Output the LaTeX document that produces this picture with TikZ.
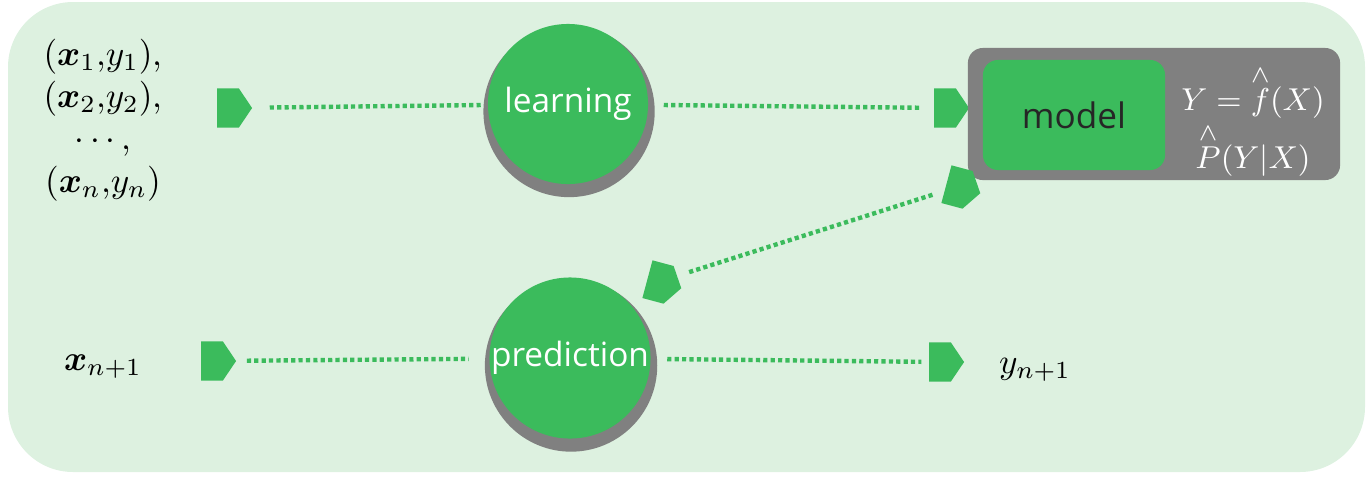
\documentclass[tikz,border=0pt]{standalone}
\usepackage{amsmath,amssymb}
\usepackage{fontspec}
\newfontfamily\stagefont{Open Sans}
\usetikzlibrary{positioning,calc,shadows}
\usetikzlibrary{shapes.symbols, arrows.meta}

\definecolor{leafgreen}{RGB}{59,187,92}
\definecolor{mintbg}{RGB}{221,241,224}
\definecolor{boxgray}{RGB}{128,128,128}

\tikzset{
	stage/.style={circle, fill=leafgreen, minimum size=1.6cm, inner sep=0pt, text=white, font=\stagefont\fontsize{9.5}{11}\selectfont,
		drop shadow={shadow xshift=0.01cm, shadow yshift=-0.07cm, shadow scale=1.07, fill=boxgray, opacity=1}},
	tag/.style={signal, signal to=east, signal pointer angle=112, fill=leafgreen, minimum width=0.35cm, minimum height=0.39cm, inner sep=0pt},
	link/.style={leafgreen, line width=1.25pt, dash pattern=on 1.2pt off 0.9pt},
	data/.style={font=\fontsize{10}{12}\selectfont, align=center},
}

\begin{document}
\begin{tikzpicture}[x=0.01cm, y=-0.01cm]
			\useasboundingbox (0,0) rectangle (1372,478);
			\fill[mintbg, rounded corners=0.65cm] (8,2) rectangle (1365,472);
			% learning row
			\node[data] (train) at (103,120) {$(\boldsymbol{x}_1{,}y_1)$,\\ $(\boldsymbol{x}_2{,}y_2)$,\\ $\cdots$,\\ $(\boldsymbol{x}_n{,}y_n)$};
			\node[tag] (t1) at (228,108) {};
			\node[stage] (learn) at (568,104) {learning};
			\node[tag] (t2) at (945,108) {};
			\node[name=outer, fill=boxgray, rounded corners=0.15cm, minimum width=3.72cm, minimum height=1.32cm] at (1154,114) {};
			\node[name=model, fill=leafgreen, rounded corners=0.15cm, minimum width=1.82cm, minimum height=1.1cm, text=black!85, font=\stagefont\fontsize{10}{12}\selectfont] at (1074,115) {model};
			\node[text=white, font=\fontsize{9.5}{11}\selectfont] (fhat) at (1253,92) {$Y=\overset{\wedge}{f}(X)$};
			\node[text=white, font=\fontsize{9.5}{11}\selectfont] (phat) at (1253,150) {$\overset{\wedge}{P}(Y|X)$};
			\draw[link, shorten <=0.17cm, shorten >=0.06cm] (t1) -- (learn);
			\draw[link, shorten <=0.15cm, shorten >=0.13cm] (learn) -- (t2);
			% prediction row
			\node[data] (xnew) at (103,367) {$\boldsymbol{x}_{n+1}$};
			\node[tag] (t3) at (212,361) {};
			\node[stage] (pred) at (570,358) {prediction};
			\node[tag] (t4) at (940,362) {};
			\node[data] (ynew) at (1035,370) {$y_{n+1}$};
			\draw[link, shorten <=0.1cm, shorten >=0.2cm] (t3) -- (pred);
			\draw[link, shorten <=0.16cm, shorten >=0.07cm] (pred) -- (t4);
			% model back to prediction
			\node[tag, rotate=-15] (t5) at (957,187) {};
			\node[tag, rotate=-15] (t6) at (658,282) {};
			\draw[link, shorten <=0.12cm, shorten >=0.1cm] (t6) -- (t5);
		\end{tikzpicture}
\end{document}
